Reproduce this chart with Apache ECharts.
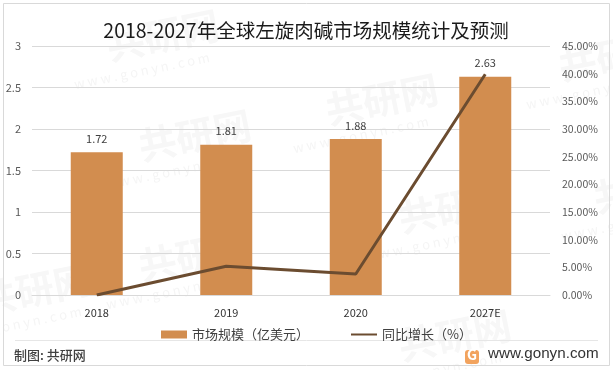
<!DOCTYPE html>
<html><head><meta charset="utf-8">
<style>html,body{margin:0;padding:0;background:#fff}#c{width:613px;height:370px}</style>
<script src="https://cdn.jsdelivr.net/npm/echarts@6/dist/echarts.min.js"></script>
</head><body><div id="c"></div>
<script>
const categories = ['2018','2019','2020','2027E'];
const marketSize = [1.72,1.81,1.88,2.63];
const growth = [0,5.2,3.8,39.9];
const leftTicks = ['0','0.5','1','1.5','2','2.5','3'];
const FONT = '"Noto Sans CJK SC","Noto Sans",sans-serif';
const marks = [[103,28],[135,128],[322,92],[555,48],[135,248],[-25,282],[395,200],[395,328],[590,180]];
const chart = echarts.init(document.getElementById('c'));
const wm = [];
marks.forEach(m=>{
  wm.push({type:'text',silent:true,z:0,x:m[0],y:m[1],rotation:0.2,style:{text:'共研网',font:'bold 38px '+FONT,fill:'#f7f7f7'}});
  wm.push({type:'text',silent:true,z:0,x:m[0]-30,y:m[1]+50,rotation:0.2,style:{text:'w w w . g o n y n . c o m',font:'13px '+FONT,fill:'#f5f5f5'}});
});
chart.setOption({
  animation:false,
  backgroundColor:'#fff',
  title:{text:'2018-2027年全球左旋肉碱市场规模统计及预测',left:301,top:16,textAlign:'center',
    textStyle:{fontFamily:FONT,fontSize:19.5,fontWeight:'normal',color:'#1a1a1a'}},
  grid:{left:32,right:63,top:46,bottom:75},
  legend:{left:156,top:323,itemGap:42,itemWidth:26,itemHeight:8,
    textStyle:{fontFamily:FONT,fontSize:13,color:'#404040'},
    data:[{name:'市场规模(亿美元)',icon:'rect'},{name:'同比增长(%)',icon:'path://M0 3H26V5H0Z'}],
    formatter:(n)=>n.replace('(','（').replace(')','）')},
  xAxis:{type:'category',data:categories,axisTick:{show:false},
    axisLine:{lineStyle:{color:'#d9d9d9'}},
    axisLabel:{fontFamily:FONT,fontSize:11,color:'#333',margin:12}},
  yAxis:[
    {type:'value',min:0,max:3,interval:0.5,
      axisLine:{show:false},axisTick:{show:false},
      splitLine:{lineStyle:{color:'#d9d9d9',width:1}},
      axisLabel:{fontFamily:FONT,fontSize:11,color:'#595959',margin:11,
        formatter:(v)=>leftTicks[Math.round(v*2)]}},
    {type:'value',min:0,max:45,interval:5,
      axisLine:{show:false},axisTick:{show:false},splitLine:{show:false},
      axisLabel:{fontFamily:FONT,fontSize:10.5,color:'#595959',margin:12,
        formatter:(v)=>v.toFixed(2)+'%'}}
  ],
  series:[
    {name:'市场规模(亿美元)',type:'bar',data:marketSize,barWidth:52,z:2,
      itemStyle:{color:'#d28d4f'},
      label:{show:true,position:'top',distance:8,fontFamily:FONT,fontSize:11,color:'#404040',
        formatter:(p)=>p.value.toFixed(2)}},
    {name:'同比增长(%)',type:'line',yAxisIndex:1,data:growth,symbol:'none',z:3,
      lineStyle:{color:'#6b4c30',width:3},itemStyle:{color:'#6b4c30'}}
  ],
  graphic:wm.concat([
    {type:'rect',silent:true,z:1,shape:{x:3.5,y:3.5,width:606,height:362},style:{fill:'none',stroke:'#d9d9d9',lineWidth:1}},
    {type:'line',silent:true,z:1,shape:{x1:15,y1:340.5,x2:598,y2:340.5},style:{stroke:'#e6e6e6',lineWidth:1}},
    {type:'text',z:5,x:14,y:349,style:{text:'制图: 共研网',font:'500 13px '+FONT,fill:'#404040'}},
    {type:'rect',z:5,shape:{x:465,y:350,width:14,height:14,r:3},style:{fill:'#f2a35e'}},
    {type:'text',z:6,x:467,y:348,style:{text:'G',font:'bold 14px '+FONT,fill:'#fff'}},
    {type:'text',z:5,x:488,y:346,style:{text:'www.gonyn.com',font:'15.2px "Liberation Sans",sans-serif',fill:'#333'}}
  ])
});
</script></body></html>
